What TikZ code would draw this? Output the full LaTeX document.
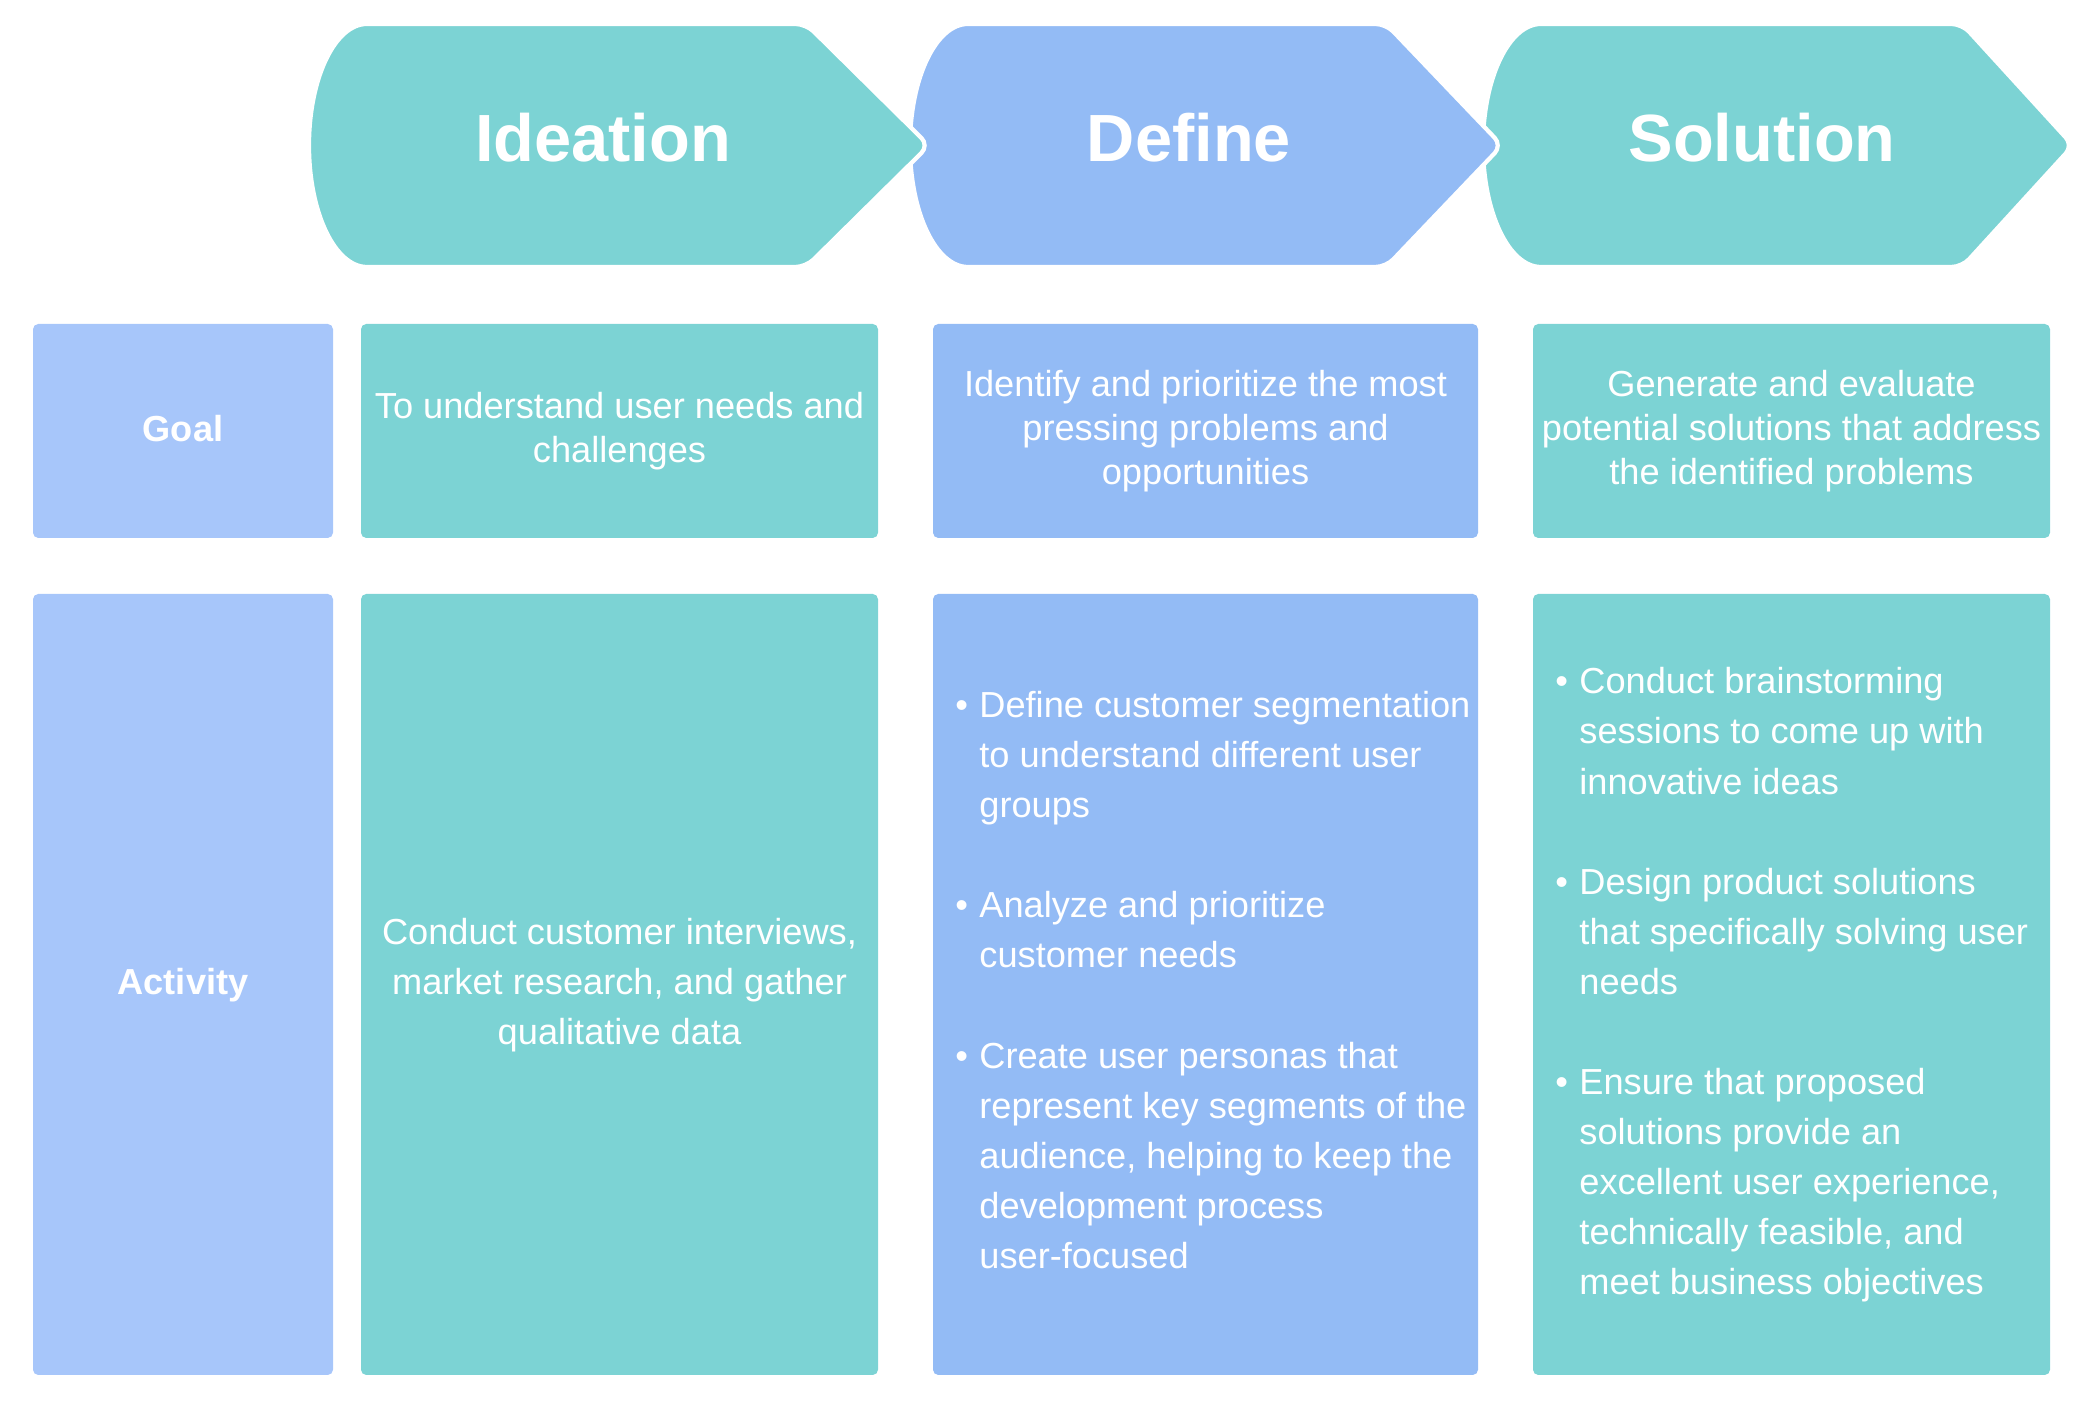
\documentclass[tikz,border=0pt]{standalone}
\usepackage{fontspec}
\setmainfont{Liberation Sans}
\usepackage{xcolor}
\usepackage{tikz}

\definecolor{tealbox}{RGB}{124,211,212}
\definecolor{bluebox}{RGB}{147,187,245}
\definecolor{labelbox}{RGB}{167,198,250}

\newcommand{\bul}{\makebox[0.24cm][l]{\textbullet}}
\newcommand{\ind}{\hspace*{0.24cm}}

\begin{document}
\begin{tikzpicture}[
  phasearrow/.style={draw=white, line width=1.2pt},
  phase/.style={text=white, anchor=base, font=\fontsize{19}{22}\selectfont\bfseries},
  cellbox/.style={rounded corners=1.5pt},
  rowlabel/.style={text=white, font=\fontsize{10.3}{12.5}\selectfont\bfseries},
  goaltext/.style={text=white, align=center, font=\fontsize{10.3}{12.5}\selectfont},
  acttext/.style={text=white, align=center, font=\fontsize{10.3}{14.25}\selectfont}
]

\useasboundingbox (0,0) rectangle (20.90,14.24);

% phase arrows, right one first so every tip lies on top of the next
\filldraw[phasearrow, fill=tealbox] (15.41,14.00) [rounded corners=3pt] -- (19.62,14.00) -- (20.73,12.785) -- (19.62,11.57) [sharp corners] -- (15.41,11.57)
  arc[start angle=270, end angle=90, x radius=0.58, y radius=1.215] -- cycle;
\filldraw[phasearrow, fill=bluebox] (9.68,14.00) [rounded corners=3pt] -- (13.86,14.00) -- (15.02,12.785) -- (13.86,11.57) [sharp corners] -- (9.68,11.57)
  arc[start angle=270, end angle=90, x radius=0.58, y radius=1.215] -- cycle;
\filldraw[phasearrow, fill=tealbox] (3.67,14.00) [rounded corners=3pt] -- (8.06,14.00) -- (9.29,12.785) -- (8.06,11.57) [sharp corners] -- (3.67,11.57)
  arc[start angle=270, end angle=90, x radius=0.58, y radius=1.215] -- cycle;

\node[phase] (ideation) at (6.03,12.62) {Ideation};
\node[phase] (define) at (11.89,12.62) {Define};
\node[phase] (solution) at (17.62,12.62) {Solution};

% row labels
\fill[cellbox, labelbox] (0.33,8.86) rectangle (3.33,11.00);
\fill[cellbox, labelbox] (0.33,0.49) rectangle (3.33,8.30);
\node[rowlabel] (goal) at (1.83,9.95) {Goal};
\node[rowlabel] (activity) at (1.83,4.39) {Activity};

% cells
\foreach \xa/\xb/\col in {3.61/8.78/tealbox, 9.33/14.78/bluebox, 15.33/20.50/tealbox}{
	\fill[cellbox, \col] (\xa,8.86) rectangle (\xb,11.00);
	\fill[cellbox, \col] (\xa,0.49) rectangle (\xb,8.30);
}

\node[goaltext] (goalide) at (6.195,9.93) {To understand user needs and\\challenges};
\node[goaltext] (goaldef) at (12.055,9.93) {Identify and prioritize the most\\pressing problems and\\opportunities};
\node[goaltext] (goalsol) at (17.915,9.93) {Generate and evaluate\\potential solutions that address\\the identified problems};

\node[acttext] (actide) at (6.195,4.39) {Conduct customer interviews,\\market research, and gather\\qualitative data};

\node[acttext, align=left, anchor=west] (actdef) at (9.43,4.44) {%
\bul Define customer segmentation\\
\ind to understand different user\\
\ind groups\\[14.25pt]
\bul Analyze and prioritize\\
\ind customer needs\\[14.25pt]
\bul Create user personas that\\
\ind represent key segments of the\\
\ind audience, helping to keep the\\
\ind development process\\
\ind user-focused};

\node[acttext, align=left, anchor=west] (actsol) at (15.43,4.39) {%
\bul Conduct brainstorming\\
\ind sessions to come up with\\
\ind innovative ideas\\[14.25pt]
\bul Design product solutions\\
\ind that specifically solving user\\
\ind needs\\[14.25pt]
\bul Ensure that proposed\\
\ind solutions provide an\\
\ind excellent user experience,\\
\ind technically feasible, and\\
\ind meet business objectives};

\end{tikzpicture}
\end{document}
